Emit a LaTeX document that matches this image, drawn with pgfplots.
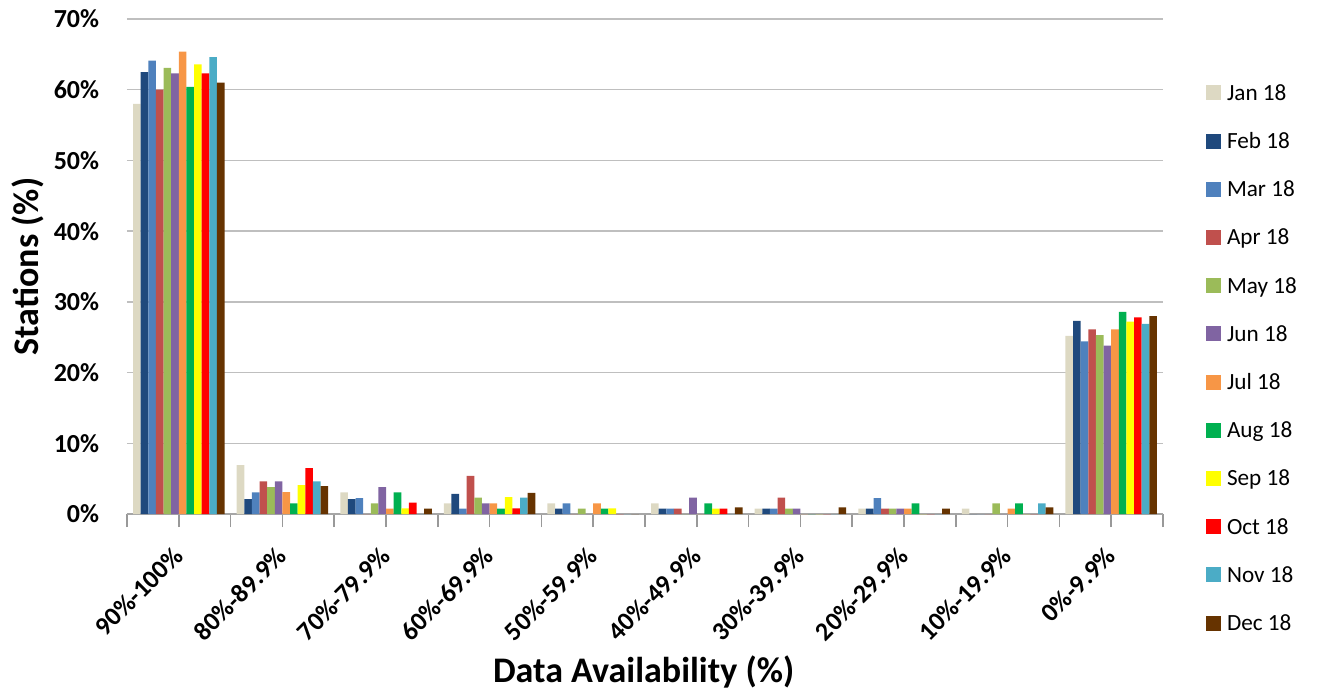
\documentclass[border=0pt]{standalone}
\usepackage{pgfplots}
\usepackage{pgfplotstable}
\pgfplotsset{compat=1.18}
\usepackage{fontspec}
\setmainfont{Carlito}
\definecolor{cJan}{HTML}{DDD9C3}
\definecolor{cFeb}{HTML}{1F497D}
\definecolor{cMar}{HTML}{4F81BD}
\definecolor{cApr}{HTML}{C0504D}
\definecolor{cMay}{HTML}{9BBB59}
\definecolor{cJun}{HTML}{8064A2}
\definecolor{cJul}{HTML}{F79646}
\definecolor{cAug}{HTML}{00B050}
\definecolor{cSep}{HTML}{FFFF00}
\definecolor{cOct}{HTML}{FF0000}
\definecolor{cNov}{HTML}{4BACC6}
\definecolor{cDec}{HTML}{663300}
\pgfplotstableread{
x   jan  feb  mar  apr  may  jun  jul  aug  sep  oct  nov  dec
0.5 58.0 62.5 64.1 60.0 63.1 62.3 65.4 60.4 63.6 62.3 64.6 61.0
1.5 6.9  2.1  3.05 4.6  3.8  4.6  3.1  1.5  4.1  6.5  4.6  3.95
2.5 3.05 2.1  2.25 0    1.5  3.8  0.76 3.05 0.8  1.6  0    0.76
3.5 1.5  2.85 0.76 5.4  2.3  1.5  1.5  0.76 2.4  0.8  2.3  3.0
4.5 1.5  0.76 1.5  0    0.76 0    1.5  0.76 0.8  0    0    0
5.5 1.5  0.76 0.76 0.76 0    2.3  0    1.5  0.76 0.76 0    0.95
6.5 0.76 0.76 0.76 2.3  0.76 0.76 0    0    0    0    0    0.95
7.5 0.76 0.76 2.25 0.76 0.76 0.76 0.76 1.5  0    0    0    0.76
8.5 0.76 0    0    0    1.5  0    0.76 1.5  0    0    1.5  0.95
9.5 25.2 27.3 24.4 26.1 25.3 23.8 26.1 28.6 27.2 27.8 26.9 28.0
}\datatable
\begin{document}
\begin{tikzpicture}
\useasboundingbox (-63.5pt,-89.5pt) rectangle (597pt,257pt);
\begin{axis}[
  at={(0pt,0pt)}, anchor=south west,
  scale only axis, width=518pt, height=247.5pt,
  xmin=0, xmax=10, ymin=0, ymax=70,
  axis x line*=bottom, axis y line*=left,
  y axis line style={draw=none},
  x axis line style={draw=black!35, line width=1pt},
  ytick={0,10,...,70},
  yticklabels={0\%,10\%,20\%,30\%,40\%,50\%,60\%,70\%},
  ytick style={draw=none},
  ymajorgrids,
  major grid style={draw=black!25, line width=0.75pt},
  xtick={0.5,1.5,...,9.5},
  minor xtick={0,1,...,10},
  xticklabels={90\%-100\%,80\%-89.9\%,70\%-79.9\%,60\%-69.9\%,50\%-59.9\%,40\%-49.9\%,30\%-39.9\%,20\%-29.9\%,10\%-19.9\%,0\%-9.9\%},
  tick align=center,
  major tick length=6.5pt, minor tick length=6.5pt,
  xtick style={draw=black!40, line width=0.75pt},
  minor tick style={draw=black!40, line width=0.75pt},
  xticklabel style={xshift=-3.5pt, yshift=-9pt, rotate=45, anchor=north east, inner sep=0pt, font=\fontsize{13pt}{15pt}\selectfont\bfseries},
  yticklabel style={anchor=east, inner sep=0pt, font=\fontsize{13pt}{15pt}\selectfont\bfseries, xshift=-10.5pt},
  every axis y label/.style={at={(axis description cs:-0.0956,0.5)}, rotate=90, anchor=center, font=\fontsize{18pt}{21pt}\selectfont\bfseries},
  every axis x label/.style={at={(axis description cs:0.4986,-0.319)}, anchor=center, font=\fontsize{18pt}{21pt}\selectfont\bfseries},
  ylabel={Stations (\%)},
  xlabel={Data Availability (\%)},
  ybar, bar width=0.0736,
  legend image code/.code={\fill[#1] (0pt,-3.75pt) rectangle (7.5pt,3.75pt);},
  legend cell align=left,
  legend style={draw=none, fill=none, inner sep=0pt, outer sep=0pt,
    at={(1.0415,0.3152)}, anchor=west, row sep=13.5pt,
    nodes={inner sep=0pt, text height=9pt, text depth=1.6pt, font=\fontsize{11.6pt}{14pt}\selectfont},
    /tikz/every odd column/.append style={column sep=3pt}},
]
\addplot[fill=cJan, draw=none, bar shift=-0.4048] table[x=x,y=jan]{\datatable};
\addplot[fill=cFeb, draw=none, bar shift=-0.3312] table[x=x,y=feb]{\datatable};
\addplot[fill=cMar, draw=none, bar shift=-0.2576] table[x=x,y=mar]{\datatable};
\addplot[fill=cApr, draw=none, bar shift=-0.1840] table[x=x,y=apr]{\datatable};
\addplot[fill=cMay, draw=none, bar shift=-0.1104] table[x=x,y=may]{\datatable};
\addplot[fill=cJun, draw=none, bar shift=-0.0368] table[x=x,y=jun]{\datatable};
\addplot[fill=cJul, draw=none, bar shift=0.0368] table[x=x,y=jul]{\datatable};
\addplot[fill=cAug, draw=none, bar shift=0.1104] table[x=x,y=aug]{\datatable};
\addplot[fill=cSep, draw=none, bar shift=0.1840] table[x=x,y=sep]{\datatable};
\addplot[fill=cOct, draw=none, bar shift=0.2576] table[x=x,y=oct]{\datatable};
\addplot[fill=cNov, draw=none, bar shift=0.3312] table[x=x,y=nov]{\datatable};
\addplot[fill=cDec, draw=none, bar shift=0.4048] table[x=x,y=dec]{\datatable};
\legend{Jan 18,Feb 18,Mar 18,Apr 18,May 18,Jun 18,Jul 18,Aug 18,Sep 18,Oct 18,Nov 18,Dec 18}
\end{axis}
\end{tikzpicture}
\end{document}
